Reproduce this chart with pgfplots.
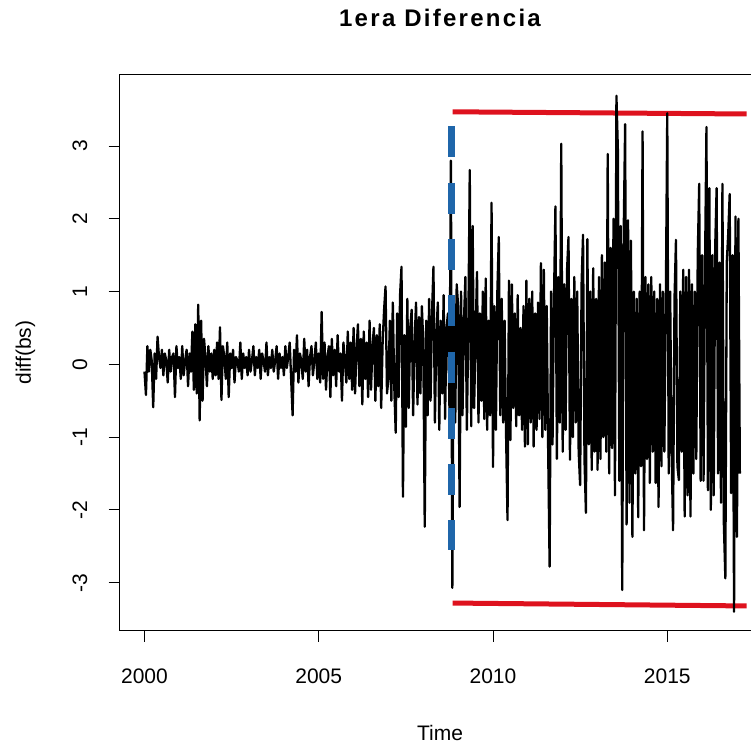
\documentclass[border=0pt]{standalone}
\usepackage{fontspec}
\setmainfont{Liberation Sans}
\newfontfamily\titlefont[LetterSpace=9.5]{Liberation Sans}
\usepackage{pgfplots}
\pgfplotsset{compat=1.18}
\definecolor{rline}{RGB}{222,18,30}
\definecolor{bline}{RGB}{31,102,170}
\begin{document}
\begin{tikzpicture}[x=1pt,y=1pt]
\begin{axis}[
  at={(119.5pt,113.3pt)}, anchor=south west,
  scale only axis, width=652.3pt, height=556pt,
  xmin=1999.283, xmax=2018.0, ymin=-3.660, ymax=3.980,
  axis line style={line width=1pt},
  tick style={black, line width=1pt},
  tick align=outside, major tick length=11pt,
  tick pos=left,
  xtick={2000,2005,2010,2015}, ytick={-3,-2,-1,0,1,2,3},
  /pgf/number format/.cd, 1000 sep={}, assume math mode=true, /pgfplots/.cd,
  ticklabel style={font=\fontsize{21}{21}\selectfont},
  xticklabel style={anchor=base, yshift=-41.3pt},
  yticklabel style={xshift=-21.5pt, rotate=90, anchor=base},
]
\addplot[rline, line width=5pt] coordinates {(2008.84,3.47) (2017.28,3.44)};
\addplot[rline, line width=5pt] coordinates {(2008.84,-3.28) (2017.28,-3.32)};
\addplot[black, line width=2.3pt, line join=round] table[x expr=2000+\coordindex/24, y index=0, header=false, row sep=\\] {
-0.10\\ -0.42\\ 0.25\\ -0.10\\ 0.20\\ 0.05\\ -0.59\\ 0.15\\ -0.20\\ 0.38\\ 0.10\\ -0.05\\ 0.20\\ -0.15\\ 0.15\\ 0.05\\ -0.25\\ 0.20\\ -0.10\\ 0.10\\ 0.15\\ -0.45\\ 0.25\\ -0.05\\
0.10\\ -0.20\\ 0.25\\ -0.15\\ 0.05\\ 0.20\\ -0.30\\ 0.15\\ -0.10\\ 0.45\\ -0.35\\ 0.55\\ -0.40\\ 0.82\\ -0.77\\ 0.60\\ -0.50\\ 0.35\\ 0.10\\ -0.30\\ 0.25\\ -0.10\\ 0.15\\ -0.20\\
0.20\\ -0.15\\ 0.30\\ -0.20\\ 0.51\\ -0.49\\ 0.25\\ 0.10\\ -0.20\\ 0.30\\ -0.45\\ 0.15\\ -0.05\\ 0.20\\ -0.25\\ 0.10\\ 0.05\\ -0.10\\ 0.30\\ -0.20\\ 0.15\\ -0.05\\ 0.10\\ -0.15\\
0.20\\ -0.10\\ 0.05\\ 0.25\\ -0.15\\ 0.10\\ -0.05\\ 0.20\\ -0.20\\ 0.15\\ 0.05\\ -0.10\\ 0.30\\ -0.15\\ 0.10\\ -0.05\\ 0.20\\ -0.10\\ 0.05\\ 0.25\\ -0.20\\ 0.15\\ -0.05\\ 0.10\\
-0.15\\ 0.25\\ -0.05\\ 0.10\\ 0.30\\ -0.20\\ -0.70\\ 0.20\\ -0.10\\ 0.40\\ -0.25\\ 0.15\\ 0.05\\ -0.20\\ 0.35\\ -0.10\\ 0.20\\ -0.30\\ 0.10\\ 0.25\\ -0.15\\ 0.05\\ 0.30\\ -0.20\\
0.15\\ -0.25\\ 0.72\\ -0.20\\ 0.30\\ -0.35\\ 0.10\\ 0.25\\ -0.45\\ 0.35\\ -0.15\\ 0.20\\ -0.30\\ 0.40\\ -0.10\\ 0.15\\ -0.50\\ 0.30\\ 0.05\\ -0.25\\ 0.45\\ -0.20\\ 0.30\\ -0.35\\
0.50\\ -0.40\\ 0.20\\ 0.55\\ -0.30\\ 0.35\\ -0.55\\ 0.45\\ -0.20\\ 0.30\\ -0.45\\ 0.60\\ -0.35\\ 0.25\\ 0.50\\ -0.50\\ 0.40\\ -0.30\\ 0.55\\ -0.60\\ 0.30\\ 0.75\\ 1.07\\ -0.40\\
-0.20\\ 0.60\\ -0.50\\ 0.85\\ -0.30\\ -0.94\\ 0.70\\ -0.45\\ 0.95\\ 1.34\\ -1.82\\ 0.40\\ -0.86\\ 0.90\\ -0.60\\ 0.50\\ 0.75\\ -0.70\\ 0.30\\ 0.85\\ -0.55\\ 0.65\\ -0.40\\ 0.80\\
0.30\\ -2.23\\ 0.60\\ -0.70\\ 0.90\\ -0.50\\ 0.70\\ 1.34\\ -0.80\\ 0.40\\ 0.85\\ -0.90\\ 0.60\\ -0.40\\ 0.95\\ -0.75\\ 0.50\\ 0.70\\ -0.60\\ 2.80\\ -3.07\\ 0.90\\ -0.80\\ 1.10\\
0.80\\ -1.96\\ 1.00\\ -0.70\\ 0.60\\ 1.20\\ -0.90\\ 0.50\\ 2.67\\ -0.85\\ 1.90\\ -0.60\\ 0.40\\ 1.27\\ -0.80\\ 0.70\\ -0.50\\ 1.00\\ -0.75\\ 1.18\\ -0.90\\ 0.60\\ -0.70\\ 2.22\\
-1.41\\ 0.80\\ -0.90\\ 1.00\\ 1.75\\ -0.70\\ 0.90\\ -0.80\\ 0.60\\ -0.95\\ -2.14\\ 1.15\\ -1.04\\ 1.10\\ -0.60\\ 0.70\\ -0.85\\ 0.95\\ -0.70\\ 0.50\\ -0.90\\ 0.80\\ -1.13\\ 1.15\\
-1.10\\ 0.90\\ -0.80\\ 1.00\\ -1.13\\ 0.70\\ -0.90\\ 0.85\\ -0.75\\ 1.39\\ -1.00\\ 1.30\\ -0.90\\ 0.80\\ -1.20\\ -2.78\\ 1.00\\ -1.10\\ 0.90\\ 2.17\\ -1.30\\ 1.20\\ -0.80\\ 3.03\\
-1.20\\ 1.10\\ -0.90\\ 1.30\\ 1.75\\ -1.31\\ 0.90\\ -1.00\\ 1.20\\ -0.80\\ 1.00\\ -1.20\\ -1.66\\ 1.10\\ 1.78\\ -1.30\\ -2.04\\ 1.72\\ -1.10\\ 1.00\\ -1.45\\ 1.32\\ -1.20\\ 0.90\\
-1.45\\ 1.20\\ -1.30\\ 1.50\\ -1.00\\ 1.40\\ -1.20\\ 2.89\\ -1.50\\ 1.60\\ -1.15\\ 2.00\\ -1.80\\ 3.69\\ 2.95\\ -1.60\\ 1.90\\ -3.10\\ 1.80\\ 3.30\\ -2.20\\ 1.98\\ -1.90\\ 1.70\\
-2.37\\ 1.00\\ -1.50\\ 0.90\\ -2.10\\ 1.00\\ -1.40\\ 3.20\\ -2.28\\ 1.20\\ -1.30\\ 1.10\\ -1.63\\ 1.20\\ -1.20\\ 1.00\\ -1.63\\ 0.90\\ -1.96\\ 1.10\\ -1.40\\ 1.00\\ -1.20\\ 0.80\\
3.45\\ -1.50\\ 1.00\\ -1.20\\ -2.28\\ 0.90\\ 1.71\\ -1.40\\ -1.59\\ 1.00\\ -1.20\\ 1.30\\ -2.09\\ 1.20\\ -1.80\\ 1.30\\ -2.09\\ 1.10\\ -1.50\\ 1.00\\ -1.30\\ 1.50\\ 2.48\\ -1.60\\
1.50\\ -1.60\\ 1.30\\ 3.26\\ -1.73\\ 2.42\\ -2.00\\ 1.50\\ -1.80\\ 1.60\\ 2.42\\ -1.50\\ 1.40\\ -1.90\\ 2.48\\ -2.20\\ -2.94\\ 1.40\\ 1.80\\ 2.34\\ -1.77\\ 1.50\\ -3.40\\ 2.03\\
-2.37\\ 2.00\\ -1.50\\
};
\addplot[bline, line width=7pt, dash pattern=on 31pt off 25.3pt] coordinates {(2008.815,3.27) (2008.815,-2.55)};
\end{axis}
\node[font=\titlefont\fontsize{24}{24}\bfseries\selectfont, anchor=base] at (440pt,717.3pt) {1era Diferencia};
\node[font=\fontsize{21}{21}\selectfont, anchor=base] at (440pt,4pt) {Time};
\node[font=\fontsize{21}{21}\selectfont, rotate=90, anchor=base] at (31pt,391.3pt) {diff(bs)};
\pgfresetboundingbox
\path[use as bounding box] (0,0) rectangle (751pt,744pt);
\end{tikzpicture}
\end{document}
